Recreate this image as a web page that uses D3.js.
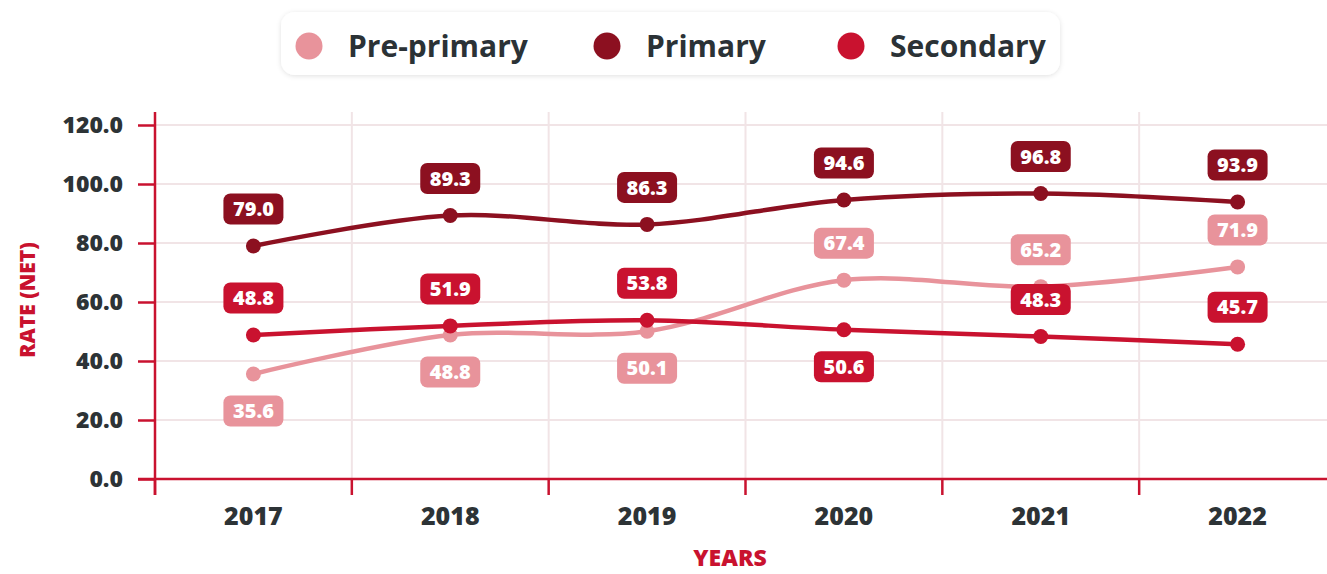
<!DOCTYPE html>
<html>
<head>
<meta charset="utf-8">
<script src="https://cdn.jsdelivr.net/npm/d3@7"></script>
<style>
  html, body { margin: 0; padding: 0; background: #ffffff; }
  svg { display: block; font-family: "Open Sans", "Noto Sans", sans-serif; }
</style>
</head>
<body>
<svg id="chart" width="1327" height="574"></svg>
<script>
// Net enrolment rate by level of education, 2017–2022
const years = ["2017", "2018", "2019", "2020", "2021", "2022"];
const prePrimary = [35.6, 48.8, 50.1, 67.4, 65.2, 71.9];
const primary = [79.0, 89.3, 86.3, 94.6, 96.8, 93.9];
const secondary = [48.8, 51.9, 53.8, 50.6, 48.3, 45.7];
const yTicks = [0, 20, 40, 60, 80, 100, 120];
const seriesNames = ["Pre-primary", "Primary", "Secondary"];

// which side of its point each value label sits on (true = below)
const prePrimaryBelow = [true, true, true, false, false, false];
const primaryBelow = [false, false, false, false, false, false];
const secondaryBelow = [false, false, false, true, false, false];

const colors = { "Pre-primary": "#e8939b", "Primary": "#8c1020", "Secondary": "#c9122f" };
const axisRed = "#c9122f";
const textDark = "#2d3336";

const series = [
  { name: "Pre-primary", values: prePrimary, below: prePrimaryBelow },
  { name: "Primary", values: primary, below: primaryBelow },
  { name: "Secondary", values: secondary, below: secondaryBelow }
];

const svg = d3.select("#chart");
const plot = { left: 155, right: 1336, top: 125, bottom: 479 };

const x = d3.scaleBand().domain(years).range([plot.left, plot.right]);
const y = d3.scaleLinear().domain([0, 120]).range([plot.bottom, plot.top]);

// gridlines
const grid = svg.append("g");
grid.selectAll("line.h").data(yTicks.filter(d => d > 0)).join("line")
  .attr("x1", plot.left).attr("x2", 1327)
  .attr("y1", d => y(d)).attr("y2", d => y(d))
  .attr("stroke", "#f1e4e6").attr("stroke-width", 2);
grid.selectAll("line.v").data(years.slice(1)).join("line")
  .attr("x1", d => x(d)).attr("x2", d => x(d))
  .attr("y1", plot.top - 13).attr("y2", plot.bottom)
  .attr("stroke", "#f1e4e6").attr("stroke-width", 2);

// y axis
const yAxis = svg.append("g")
  .attr("transform", `translate(${plot.left},0)`)
  .call(d3.axisLeft(y).tickValues(yTicks).tickFormat(d3.format(".1f")).tickSize(17).tickPadding(15));
yAxis.select(".domain").remove();
yAxis.append("line")
  .attr("x1", 0).attr("x2", 0).attr("y1", plot.top - 13).attr("y2", plot.bottom + 16)
  .attr("stroke", axisRed).attr("stroke-width", 2.5);
yAxis.selectAll(".tick line").attr("stroke", axisRed).attr("stroke-width", 2.5);
yAxis.selectAll(".tick text")
  .attr("fill", textDark).attr("font-size", 23).attr("font-weight", 800)
  .attr("font-family", "'Open Sans', sans-serif");

// x axis
const xAxis = svg.append("g")
  .attr("transform", `translate(0,${plot.bottom})`)
  .call(d3.axisBottom(x).tickSize(0).tickPadding(28));
xAxis.select(".domain").remove();
xAxis.append("line")
  .attr("x1", plot.left - 17).attr("x2", 1327).attr("y1", 0).attr("y2", 0)
  .attr("stroke", axisRed).attr("stroke-width", 2.5);
xAxis.selectAll("line.sep").data(years).join("line")
  .attr("class", "sep")
  .attr("x1", d => x(d)).attr("x2", d => x(d))
  .attr("y1", 0).attr("y2", 16)
  .attr("stroke", axisRed).attr("stroke-width", 2.5);
xAxis.selectAll(".tick text")
  .attr("fill", textDark).attr("font-size", 25).attr("font-weight", 800)
  .attr("font-family", "'Open Sans', sans-serif");

// axis titles
svg.append("text")
  .attr("transform", `translate(35,${(plot.top + plot.bottom) / 2 - 2}) rotate(-90)`)
  .attr("text-anchor", "middle")
  .attr("fill", axisRed).attr("font-size", 21).attr("font-weight", 800)
  .text("RATE (NET)");
svg.append("text")
  .attr("x", 730).attr("y", 566)
  .attr("text-anchor", "middle")
  .attr("fill", axisRed).attr("font-size", 23).attr("font-weight", 800)
  .text("YEARS");

// lines, points and value labels
const cx = d => x(d) + x.bandwidth() / 2;
const line = d3.line()
  .x((d, i) => cx(years[i]))
  .y(d => y(d))
  .curve(d3.curveCatmullRom.alpha(0.5));

const order = ["Pre-primary", "Secondary", "Primary"];
order.forEach(name => {
  const s = series.find(e => e.name === name);
  const g = svg.append("g");
  g.append("path")
    .attr("d", line(s.values))
    .attr("fill", "none")
    .attr("stroke", colors[name])
    .attr("stroke-width", 4.5)
    .attr("stroke-linecap", "round");
  g.selectAll("circle").data(s.values).join("circle")
    .attr("cx", (d, i) => cx(years[i]))
    .attr("cy", d => y(d))
    .attr("r", 7.5)
    .attr("fill", colors[name]);
});

order.forEach(name => {
  const s = series.find(e => e.name === name);
  const lg = svg.append("g");
  const boxW = 60, boxH = 31;
  const items = lg.selectAll("g").data(s.values).join("g")
    .attr("transform", (d, i) => {
      const cy = y(d) + (s.below[i] ? 37 : -37);
      return `translate(${cx(years[i])},${cy})`;
    });
  items.append("rect")
    .attr("x", -boxW / 2).attr("y", -boxH / 2)
    .attr("width", boxW).attr("height", boxH)
    .attr("rx", 7)
    .attr("fill", colors[name]);
  items.append("text")
    .attr("text-anchor", "middle")
    .attr("dy", "0.36em")
    .attr("fill", "#ffffff")
    .attr("font-size", 20).attr("font-weight", 800)
    .text(d => d3.format(".1f")(d));
});

// legend
const legend = svg.append("g");
const defs = svg.append("defs");
const f = defs.append("filter").attr("id", "legendShadow")
  .attr("x", "-5%").attr("y", "-30%").attr("width", "110%").attr("height", "160%");
f.append("feDropShadow").attr("dx", 0).attr("dy", 1).attr("stdDeviation", 2.5)
  .attr("flood-color", "#000").attr("flood-opacity", 0.12);
legend.append("rect")
  .attr("x", 281).attr("y", 12).attr("width", 779).attr("height", 63)
  .attr("rx", 14).attr("fill", "#ffffff")
  .attr("filter", "url(#legendShadow)");
const legendX = [309, 607, 851];
const legendItems = legend.selectAll("g.item").data(seriesNames).join("g")
  .attr("class", "item")
  .attr("transform", (d, i) => `translate(${legendX[i]},46)`);
legendItems.append("circle").attr("r", 13.5).attr("fill", d => colors[d]);
legendItems.append("text")
  .attr("x", 39).attr("dy", "0.35em")
  .attr("fill", "#2b3236").attr("font-size", 30).attr("font-weight", 700)
  .text(d => d);
</script>
</body>
</html>
